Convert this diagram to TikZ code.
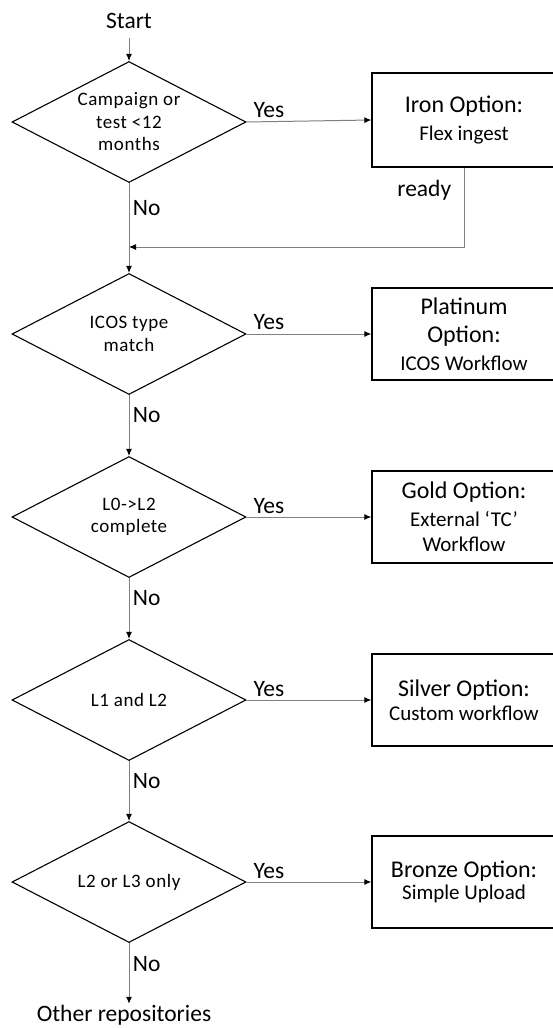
\documentclass[tikz,border=0pt]{standalone}
\usepackage{fontspec}
\setmainfont{Carlito}
\usetikzlibrary{shapes.geometric,arrows.meta}

\tikzset{
  decision/.style={draw, diamond, line width=1.1pt, minimum width=234pt,
    minimum height=121pt, inner sep=0pt},
  qtext/.style={align=center, inner sep=0pt,
    font=\fontsize{19}{22.5}\selectfont\addfontfeatures{LetterSpace=3}},
  option/.style={draw, line width=1.3pt, minimum width=184pt,
    minimum height=92pt, align=center, inner sep=0pt,
    font=\fontsize{24}{28}\selectfont},
  flow/.style={draw=black!50, line width=1pt, -{Latex[length=7pt,width=6pt,black]}},
  word/.style={font=\fontsize{23.5}{28}\selectfont},
  term/.style={word, inner sep=1pt},
}
\newcommand{\optsub}[1]{{\fontsize{21}{25}\selectfont #1}}

\begin{document}
\begin{tikzpicture}[x=1pt, y=-1pt]
      \useasboundingbox (0,0) rectangle (552,1028);

      \node [term] (start) at (129, 21) {Start};

      % questions
      \node [decision, label={[qtext]center:{Campaign or\\test <12\\months}}] (d1) at (129, 122) {};
      \node [decision, label={[qtext]center:{ICOS type\\match}}] (d2) at (129, 334) {};
      \node [decision, label={[qtext]center:{L0->L2\\complete}}] (d3) at (129, 517) {};
      \node [decision, label={[qtext]center:{L1 and L2}}] (d4) at (129, 700) {};
      \node [decision, label={[qtext]center:{L2 or L3 only}}] (d5) at (129, 882) {};

      % options
      \node [option, minimum height=94pt] (o1) at (464, 120) {Iron Option:\\ \optsub{Flex ingest}};
      \node [option] (o2) at (464, 334) {Platinum\\Option:\\ \optsub{ICOS Workflow}};
      \node [option] (o3) at (464, 517) {Gold Option:\\ \optsub{External `TC'}\\[-3pt] \optsub{Workflow}};
      \node [option] (o4) at (464, 700) {Silver Option:\\[-4pt] \optsub{Custom workflow}};
      \node [option] (o5) at (464, 882) {Bronze Option:\\[-6pt] \optsub{Simple Upload}};

      \node [term] (other) at (124, 1015) {Other repositories};
      \coordinate (merge) at (129, 247);

      \draw [flow, shorten <=8pt] (start) -- (d1);

      \foreach \i in {1,...,5}
               {
                 \draw [flow] (d\i.east) -- node[word, pos=0.18, above] {Yes} (o\i.west);
               }

      \draw [flow] (o1.south) |- node[word, pos=0.14, left, xshift=-9pt] {ready} (merge);
      \draw [flow] (d1.south) -- node[word, pos=0.28, right] {No} (d2.north);
      \foreach \i/\j in {2/3, 3/4, 4/5}
               {
                 \draw [flow] (d\i.south) -- node[word, pos=0.33, right] {No} (d\j.north);
               }
      \draw [flow] (d5.south) -- node[word, pos=0.34, right] {No} (d5.south |- other.north);
    \end{tikzpicture}
\end{document}
